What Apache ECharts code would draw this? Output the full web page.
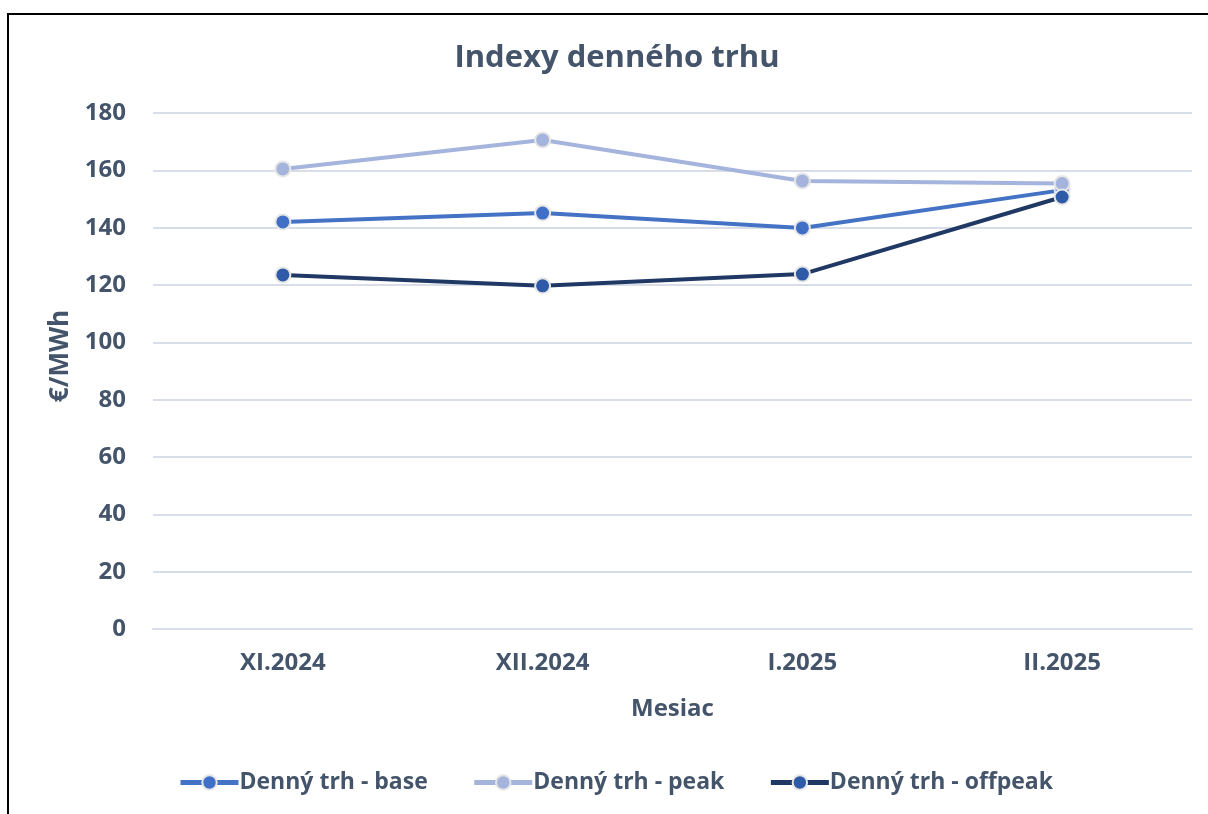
<!DOCTYPE html>
<html>
<head>
<meta charset="utf-8">
<script src="https://cdn.jsdelivr.net/npm/echarts@6/dist/echarts.min.js"></script>
<style>
  html, body { margin: 0; padding: 0; background: #fff; }
  #frame {
    position: absolute; left: 7px; top: 13px; width: 1210px; height: 810px;
    border-top: 2px solid #000; border-left: 2px solid #000;
  }
  #chart { position: absolute; left: 0; top: 0; width: 1208px; height: 814px; }
</style>
</head>
<body>
<div id="frame"></div>
<div id="chart"></div>
<script>
// mesiace a hodnoty (€/MWh)
const months = ['XI.2024', 'XII.2024', 'I.2025', 'II.2025']
const baseValues = [142.0, 145.1, 139.9, 153.1]
const peakValues = [160.5, 170.6, 156.3, 155.4]
const offpeakValues = [123.5, 119.7, 123.8, 150.7]

const textColor = '#44546a'
const font = 'Open Sans'

const chart = echarts.init(document.getElementById('chart'))

const makeSeries = (name, data, lineColor, dotColor) => ({
  name: name,
  type: 'line',
  data: data,
  symbol: 'circle',
  symbolSize: 15,
  lineStyle: { color: lineColor, width: 4 },
  itemStyle: { color: dotColor, borderColor: '#e6e6e6', borderWidth: 2 },
  emphasis: { disabled: true }
})

chart.setOption({
  animation: false,
  textStyle: { fontFamily: font },
  title: {
    text: 'Indexy denného trhu',
    left: 612,
    top: 38,
    textAlign: 'center',
    textStyle: { color: textColor, fontSize: 31, fontWeight: 'bold', fontFamily: font }
  },
  legend: {
    bottom: 20,
    left: 178,
    padding: 0,
    itemWidth: 58,
    itemHeight: 18,
    itemGap: 44,
    lineStyle: { width: 5 },
    textStyle: { color: textColor, fontSize: 23, fontWeight: 'bold', fontFamily: font, padding: [0, 0, 0, -4] },
    data: ['Denný trh - base', 'Denný trh - peak', 'Denný trh - offpeak']
  },
  grid: { left: 153, right: 16, top: 113, bottom: 185 },
  xAxis: {
    type: 'category',
    data: months,
    name: 'Mesiac',
    nameLocation: 'middle',
    nameGap: 68,
    nameTextStyle: { color: textColor, fontSize: 24, fontWeight: 'bold' },
    axisLine: { lineStyle: { color: '#d9dde8', width: 2 } },
    axisTick: { show: false },
    axisLabel: { color: textColor, fontSize: 24, fontWeight: 'bold', margin: 22 }
  },
  yAxis: {
    type: 'value',
    min: 0,
    max: 180,
    interval: 20,
    name: '€/MWh',
    nameLocation: 'middle',
    nameGap: 78,
    nameRotate: 90,
    nameTextStyle: { color: textColor, fontSize: 26, fontWeight: 'bold', padding: [0, 0, 0, 30] },
    axisLine: { show: false },
    axisTick: { show: false },
    axisLabel: { color: textColor, fontSize: 24, fontWeight: 'bold', margin: 27 },
    splitLine: { lineStyle: { color: '#d9dde8', width: 2 } }
  },
  series: [
    makeSeries('Denný trh - base', baseValues, '#4472c4', '#3f6fc6'),
    makeSeries('Denný trh - peak', peakValues, '#a5b4dd', '#a5b4dd'),
    makeSeries('Denný trh - offpeak', offpeakValues, '#1f3864', '#2f5aa8')
  ]
})
</script>
</body>
</html>
